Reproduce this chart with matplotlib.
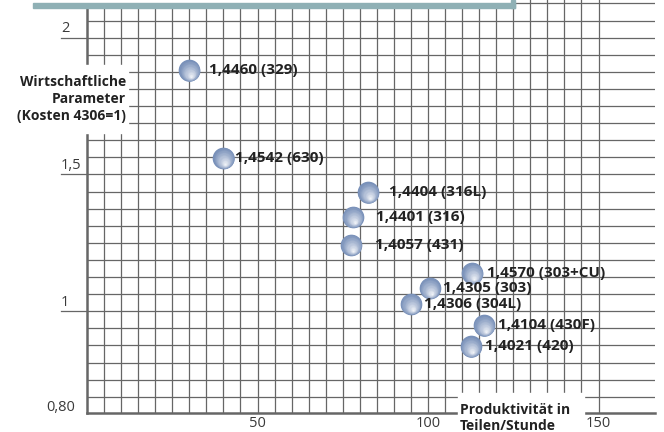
import matplotlib
matplotlib.use('Agg')
import matplotlib.pyplot as plt
import matplotlib.transforms as mtransforms
from matplotlib.patches import Rectangle
from matplotlib.colors import to_rgb
import numpy as np

# data
grades = ['1,4460 (329)', '1,4542 (630)', '1,4404 (316L)', '1,4401 (316)', '1,4057 (431)',
          '1,4570 (303+CU)', '1,4305 (303)', '1,4306 (304L)', '1,4104 (430F)', '1,4021 (420)']
productivity = [30, 40, 82.5, 78, 77.5, 113, 100.5, 95, 116.5, 112.5]
cost = [1.88, 1.56, 1.435, 1.346, 1.243, 1.14, 1.085, 1.027, 0.948, 0.872]

ytick_vals = [2, 1.5, 1]
ytick_text = ['2', '1,5', '1']
xtick_vals = [50, 100, 150]
xtick_text = ['50', '100', '150']

# label offsets (pixels, right of the bubble)
label_dx = [20, 12, 21, 23, 24, 15, 13, 13, 14, 14]

W, H = 664, 432
GRID = '#666666'
FONT = 'Open Sans'

fig = plt.figure(figsize=(W / 100, H / 100), dpi=100)
ax = fig.add_axes([87 / W, 19 / H, 568 / W, 413 / H])
ymin = 0.628
ymax = ymin + 413 / 273.6
xmax = 568 / 3.41
ax.set_xlim(0, xmax)
ax.set_ylim(ymin, ymax)

# grid
for gx in np.arange(5, 151, 5):
    ax.plot([gx, gx], [ymin, ymax], color=GRID, lw=0.9, zorder=1)
for k in range(-5, 19):
    gy = 1 + 0.0625 * k
    ax.plot([0, xmax], [gy, gy], color=GRID, lw=0.9, zorder=1)

for s in ['top', 'right']:
    ax.spines[s].set_visible(False)
for s in ['left', 'bottom']:
    ax.spines[s].set_color(GRID)
    ax.spines[s].set_linewidth(1.8)
    ax.spines[s].set_zorder(2)

ax.set_yticks([])
ax.set_xticks(xtick_vals)
ax.set_xticklabels(xtick_text, fontfamily=FONT, fontsize=10.5, color='#3a3a3a')
ax.tick_params(axis='x', length=0, pad=2)

# y labels sit on a short line left of the axis
yt = ax.get_yaxis_transform()
for v, t in zip(ytick_vals, ytick_text):
    ax.plot([-26 / 568, 0], [v, v], color=GRID, lw=0.9, transform=yt, clip_on=False)
    ax.text(-26 / 568, v + 0.006, t, transform=yt, ha='left', va='bottom',
            fontfamily=FONT, fontsize=10.5, color='#3a3a3a')
ax.text(-12 / 568, ymin + 0.02, '0,80', transform=yt, ha='right', va='center',
        fontfamily=FONT, fontsize=10.5, color='#3a3a3a')

# shaded bubbles
dark = np.array(to_rgb('#7890b9'))
light = np.array(to_rgb('#f8f9fc'))
R = 7.8  # points
hx, hy = 0.2 * R, -0.6 * R
N = 20
for i in range(N):
    t = i / N
    r = R * (1 - t)
    col = dark + (light - dark) * (t ** 1.1)
    tr = mtransforms.offset_copy(ax.transData, fig=fig, x=t * hx, y=t * hy, units='points')
    ax.scatter(productivity, cost, s=(2 * r) ** 2, color=col, linewidths=0,
               transform=tr, zorder=4 + i * 0.01)

for x, y, g, dx in zip(productivity, cost, grades, label_dx):
    ax.annotate(g, (x, y), xytext=(dx, 0), textcoords='offset pixels', ha='left', va='center',
                fontfamily=FONT, fontweight='bold', fontsize=11, color='#222222', zorder=6)

# page decorations in pixel coords, origin top-left
T = mtransforms.Affine2D().scale(1, -1).translate(0, H)
fig.add_artist(Rectangle((0, 0), 512, 3, transform=T, color='white', zorder=3))
fig.add_artist(Rectangle((33, 3), 482, 5, transform=T, color='#8fb0b5', zorder=4))
fig.add_artist(Rectangle((511, 0), 4, 8, transform=T, color='#8fb0b5', zorder=4))
fig.add_artist(Rectangle((0, 65), 128, 68, transform=T, color='white', zorder=3))
fig.add_artist(Rectangle((458, 393), 126, 39, transform=T, color='white', zorder=3))

fig.text(126, 99, 'Wirtschaftliche\nParameter\n(Kosten 4306=1)', transform=T,
         ha='right', va='center', multialignment='right', linespacing=1.25,
         fontfamily=FONT, fontweight='bold', fontsize=10, color='#222222', zorder=5)
fig.text(460, 418, 'Produktivität in\nTeilen/Stunde', transform=T,
         ha='left', va='center', linespacing=1.2,
         fontfamily=FONT, fontweight='bold', fontsize=10, color='#222222', zorder=5)

fig.savefig('out.png', dpi=100)
